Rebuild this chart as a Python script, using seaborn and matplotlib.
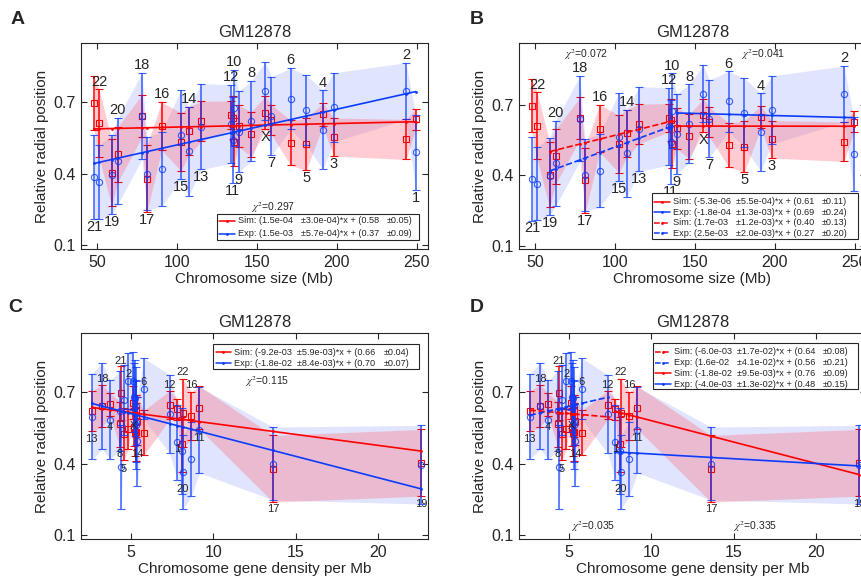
import numpy as np
import matplotlib
matplotlib.use("Agg")
import matplotlib.pyplot as plt
import seaborn as sns
from matplotlib.patches import Rectangle

# per-chromosome values
chrom = ["1", "2", "3", "4", "5", "6", "7", "8", "9", "10", "11", "12",
         "13", "14", "15", "16", "17", "18", "19", "20", "21", "22", "X"]
size_mb = [249.3, 243.2, 198.0, 191.2, 180.9, 171.1, 159.1, 146.4, 138.5, 135.5, 135.0, 133.9,
           115.2, 107.3, 102.5, 90.4, 81.2, 78.1, 59.1, 63.0, 48.1, 51.3, 155.3]
gene_density = [7.84, 4.85, 5.22, 3.76, 4.60, 5.80, 5.35, 4.35, 5.30, 5.25, 9.16, 7.36,
                2.65, 5.40, 5.30, 8.68, 13.62, 3.28, 22.6, 8.12, 4.43, 8.17, 5.15]
sim_mean = [0.628, 0.543, 0.553, 0.648, 0.522, 0.529, 0.626, 0.565, 0.600, 0.531, 0.635, 0.645,
            0.619, 0.578, 0.533, 0.599, 0.378, 0.642, 0.403, 0.480, 0.696, 0.611, 0.655]
sim_err = [0.044, 0.084, 0.080, 0.048, 0.109, 0.094, 0.063, 0.094, 0.087, 0.100, 0.090, 0.060,
           0.084, 0.101, 0.122, 0.101, 0.140, 0.089, 0.140, 0.116, 0.112, 0.142, 0.070]
exp_mean = [0.489, 0.746, 0.678, 0.584, 0.666, 0.714, 0.641, 0.620, 0.575, 0.674, 0.541, 0.608,
            0.597, 0.493, 0.563, 0.419, 0.400, 0.641, 0.395, 0.452, 0.385, 0.364, 0.747]
exp_err = [0.158, 0.119, 0.145, 0.165, 0.147, 0.128, 0.165, 0.167, 0.170, 0.160, 0.180, 0.165,
           0.180, 0.186, 0.188, 0.156, 0.153, 0.181, 0.165, 0.181, 0.178, 0.155, 0.121]

# groups used for the split fits
b_small = ["10", "11", "12", "13", "14", "15", "16", "17", "18", "19", "20"]
b_large = ["1", "2", "3", "4", "5", "6", "7", "8", "9", "X"]
d_low = ["13", "18", "4", "21", "8", "5", "2", "X", "3", "10", "9", "7", "15", "14", "6", "12"]
d_high = ["1", "22", "20", "16", "11", "17", "19"]

# fit coefficients (slope, intercept) and legend texts
fit_a = {"sim": (1.5e-04, 0.58), "exp": (1.5e-03, 0.37)}
fit_b = {"sim_l": (-5.3e-06, 0.61), "exp_l": (-1.8e-04, 0.69),
         "sim_s": (1.7e-03, 0.40), "exp_s": (2.5e-03, 0.27)}
fit_c = {"sim": (-9.2e-03, 0.66), "exp": (-1.8e-02, 0.70)}
fit_d = {"sim_lo": (-6.0e-03, 0.64), "exp_lo": (1.6e-02, 0.56),
         "sim_hi": (-1.8e-02, 0.76), "exp_hi": (-4.0e-03, 0.48)}

legend_a = [("Sim: (1.5e-04", "\u00b13.0e-04)*x + (0.58", "\u00b10.05)"),
            ("Exp: (1.5e-03", "\u00b15.7e-04)*x + (0.37", "\u00b10.09)")]
legend_b = [("Sim: (-5.3e-06", "\u00b15.5e-04)*x + (0.61", "\u00b10.11)"),
            ("Exp: (-1.8e-04", "\u00b11.3e-03)*x + (0.69", "\u00b10.24)"),
            ("Sim: (1.7e-03", "\u00b11.2e-03)*x + (0.40", "\u00b10.13)"),
            ("Exp: (2.5e-03", "\u00b12.0e-03)*x + (0.27", "\u00b10.20)")]
legend_c = [("Sim: (-9.2e-03", "\u00b15.9e-03)*x + (0.66", "\u00b10.04)"),
            ("Exp: (-1.8e-02", "\u00b18.4e-03)*x + (0.70", "\u00b10.07)")]
legend_d = [("Sim: (-6.0e-03", "\u00b11.7e-02)*x + (0.64", "\u00b10.08)"),
            ("Exp: (1.6e-02", "\u00b14.1e-02)*x + (0.56", "\u00b10.21)"),
            ("Sim: (-1.8e-02", "\u00b19.5e-03)*x + (0.76", "\u00b10.09)"),
            ("Exp: (-4.0e-03", "\u00b11.3e-02)*x + (0.48", "\u00b10.15)")]

# label heights in the gene density panels
c_label_y = {"13": 0.505, "18": 0.756, "4": 0.553, "21": 0.83, "8": 0.439, "5": 0.379,
             "2": 0.777, "X": 0.556, "14": 0.438, "6": 0.742, "12": 0.731, "1": 0.463,
             "22": 0.784, "20": 0.291, "16": 0.728, "11": 0.507, "17": 0.211, "19": 0.228}

RED = "#ff0000"
BLUE = "#0a3cff"
GRAY = "#262626"

sns.set_style("ticks")
plt.rcParams["font.family"] = ["Liberation Sans", "DejaVu Sans"]
plt.rcParams["mathtext.fontset"] = "stix"
plt.rcParams["axes.edgecolor"] = GRAY
plt.rcParams["axes.linewidth"] = 0.8

size_mb = np.array(size_mb)
gene_density = np.array(gene_density)
sim_mean, sim_err = np.array(sim_mean), np.array(sim_err)
exp_mean, exp_err = np.array(exp_mean), np.array(exp_err)

FW, FH = 862, 583
AW, AH = 347, 206

fig = plt.figure(figsize=(FW / 100, FH / 100), dpi=100)


def px_axes(left, top):
    return fig.add_axes([left / FW, 1 - (top + AH) / FH, AW / FW, AH / FH])


def draw_data(ax, x):
    order = np.argsort(x, kind="stable")
    ax.fill_between(x[order], (exp_mean - exp_err)[order], (exp_mean + exp_err)[order],
                    color="#e0e4fc", lw=0, zorder=1)
    ax.fill_between(x[order], (sim_mean - sim_err)[order], (sim_mean + sim_err)[order],
                    color="#ff6e82", alpha=0.35, lw=0, zorder=1.5)
    ax.errorbar(x, sim_mean, yerr=sim_err, fmt="s", color=RED, mfc="none", mec=RED,
                ms=4.2, mew=0.8, elinewidth=1.1, capsize=3, capthick=1.0, zorder=3)
    ax.errorbar(x, exp_mean, yerr=exp_err, fmt="o", color=BLUE, mfc="none", mec=BLUE,
                ms=4.5, mew=0.8, elinewidth=1.1, capsize=3, capthick=1.0, alpha=0.8, zorder=4)


def fit_line(ax, x, members, coef, color, ls="-"):
    idx = [chrom.index(c) for c in members]
    xs = np.sort(x[idx])
    ys = coef[0] * xs + coef[1]
    sns.lineplot(x=xs, y=ys, color=color, linestyle=ls, lw=1.2, marker=".", ms=4,
                 mew=0, estimator=None, sort=True, ax=ax, zorder=5)


def size_labels(ax):
    for i, c in enumerate(chrom):
        top = max(sim_mean[i] + sim_err[i], exp_mean[i] + exp_err[i])
        bot = min(sim_mean[i] - sim_err[i], exp_mean[i] - exp_err[i])
        if c != "X" and int(c) % 2 == 0:
            y = top + 0.033
        else:
            y = bot - 0.033
        ax.text(size_mb[i], y, c, fontsize=10.5, ha="center", va="center", zorder=6)


def density_labels(ax):
    for c, y in c_label_y.items():
        i = chrom.index(c)
        ax.text(gene_density[i], y, c, fontsize=8, ha="center", va="center", zorder=6)


def draw_legend(ax, left, top, width, height, rows, styles, row_y):
    ax.add_patch(Rectangle((left / AW, 1 - (top + height) / AH), width / AW, height / AH,
                           transform=ax.transAxes, fc="white", ec=GRAY, lw=0.8,
                           zorder=10, clip_on=False))
    for (s1, s2, s3), (color, ls), ry in zip(rows, styles, row_y):
        yy = 1 - (top + ry) / AH
        ax.plot([(left + 2.5) / AW, (left + 18) / AW], [yy, yy], transform=ax.transAxes,
                color=color, ls=ls, lw=1.1, zorder=11, clip_on=False)
        ax.plot([(left + 10.2) / AW], [yy], transform=ax.transAxes, color=color,
                marker=".", ms=4, mew=0, zorder=11, clip_on=False)
        for off, s in zip((21, 84, 170), (s1, s2, s3)):
            ax.text((left + off) / AW, yy, s, transform=ax.transAxes, fontsize=6.6,
                    ha="left", va="center", zorder=12, clip_on=False)


def style_axes(ax, xlim, xticks, xlabel, ylim=(0.083, 0.948)):
    ax.set_xlim(*xlim)
    ax.set_ylim(*ylim)
    ax.set_xticks(xticks)
    ax.set_yticks([0.1, 0.4, 0.7])
    ax.set_yticklabels(["0.1", "0.4", "0.7"])
    ax.tick_params(direction="in", top=True, right=True, length=4, width=0.8,
                   colors=GRAY, labelsize=11.5, pad=4)
    ax.set_xlabel(xlabel, fontsize=11, color=GRAY, labelpad=2)
    ax.set_ylabel("Relative radial position", fontsize=11, color=GRAY, labelpad=3)
    ax.set_title("GM12878", fontsize=12, pad=4)
    for sp in ax.spines.values():
        sp.set_color(GRAY)
        sp.set_linewidth(0.8)


def chi(ax, x, y, txt):
    ax.text(x, y, r"$\chi^2$=" + txt, fontsize=7.5, ha="center", va="center", zorder=6)


size_ticks = [50, 100, 150, 200, 250]
dens_ticks = [5, 10, 15, 20]

# A
ax = px_axes(81, 43)
draw_data(ax, size_mb)
fit_line(ax, size_mb, chrom, fit_a["sim"], RED)
fit_line(ax, size_mb, chrom, fit_a["exp"], BLUE)
size_labels(ax)
chi(ax, 160, 0.256, "0.297")
draw_legend(ax, 135.7, 171.3, 202.3, 25.7, legend_a, [(RED, "-"), (BLUE, "-")], [6.4, 19.6])
style_axes(ax, (40, 257), size_ticks, "Chromosome size (Mb)")

# B
ax = px_axes(519, 43)
draw_data(ax, size_mb)
fit_line(ax, size_mb, b_large, fit_b["sim_l"], RED)
fit_line(ax, size_mb, b_large, fit_b["exp_l"], BLUE)
fit_line(ax, size_mb, b_small, fit_b["sim_s"], RED, "--")
fit_line(ax, size_mb, b_small, fit_b["exp_s"], BLUE, "--")
size_labels(ax)
chi(ax, 82, 0.915, "0.072")
chi(ax, 192.4, 0.915, "0.041")
draw_legend(ax, 132.7, 149.7, 206, 46.6, legend_b,
            [(RED, "-"), (BLUE, "-"), (RED, "--"), (BLUE, "--")], [9, 19.6, 30, 40.6])
style_axes(ax, (40, 257), size_ticks, "Chromosome size (Mb)", ylim=(0.086, 0.963))

# C
ax = px_axes(81, 333)
draw_data(ax, gene_density)
fit_line(ax, gene_density, chrom, fit_c["sim"], RED)
fit_line(ax, gene_density, chrom, fit_c["exp"], BLUE)
density_labels(ax)
chi(ax, 13.24, 0.746, "0.115")
draw_legend(ax, 132.3, 11.3, 206, 24.7, legend_c, [(RED, "-"), (BLUE, "-")], [8, 19])
style_axes(ax, (2, 23), dens_ticks, "Chromosome gene density per Mb")

# D
ax = px_axes(519, 333)
draw_data(ax, gene_density)
fit_line(ax, gene_density, d_low, fit_d["sim_lo"], RED, "--")
fit_line(ax, gene_density, d_low, fit_d["exp_lo"], BLUE, "--")
fit_line(ax, gene_density, d_high, fit_d["sim_hi"], RED)
fit_line(ax, gene_density, d_high, fit_d["exp_hi"], BLUE)
density_labels(ax)
chi(ax, 6.5, 0.137, "0.035")
chi(ax, 16.27, 0.137, "0.335")
draw_legend(ax, 133.7, 10.3, 205, 46, legend_d,
            [(RED, "--"), (BLUE, "--"), (RED, "-"), (BLUE, "-")], [8.4, 19.4, 30, 41])
style_axes(ax, (2, 23), dens_ticks, "Chromosome gene density per Mb")

for letter, (px, py) in zip("ABCD", [(18, 20), (477, 20), (15, 307), (477, 307)]):
    fig.text(px / FW, 1 - py / FH, letter, fontsize=14, fontweight="bold",
             ha="center", va="center")

fig.savefig("out.png", dpi=100)
